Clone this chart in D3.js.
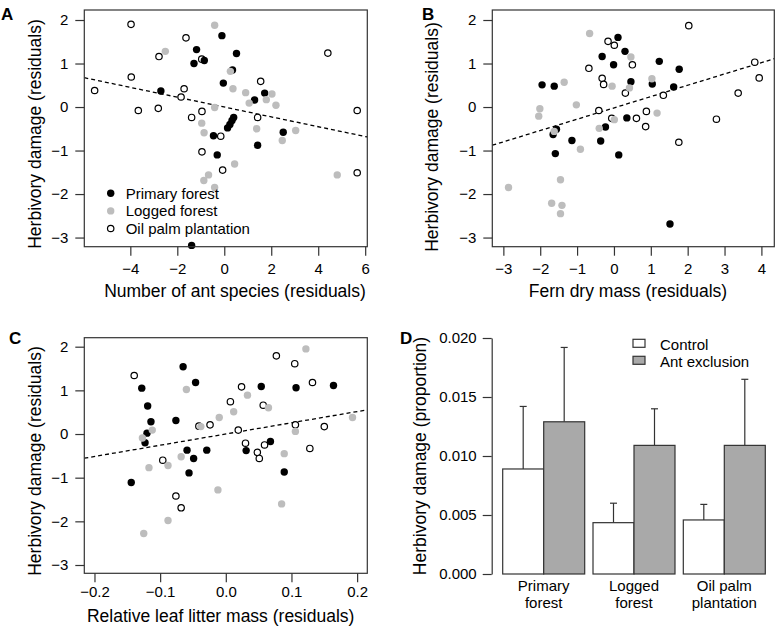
<!DOCTYPE html>
<html><head><meta charset="utf-8">
<script src="https://cdn.jsdelivr.net/npm/d3@7"></script>
<style>
html,body{margin:0;padding:0;background:#fff;}
svg{display:block;font-family:"Liberation Sans",Arial,Helvetica,sans-serif;}
</style></head><body>
<svg id="c" width="777" height="628"></svg>
<script>
// ---------- DATA ----------
const yTicks = [-3, -2, -1, 0, 1, 2];
// Panel A: number of ant species (residuals)
const aTicksX = [-4, -2, 0, 2, 4, 6];
const aPrimX = [-0.10, -1.18, -1.29, -0.85, 0.52, -0.04, -2.70, 0.40, 0.33, 0.24, 0.14, -0.46, -0.30, 1.29, 1.72, 1.42, 2.51, -1.39, 0.35];
const aPrimY = [1.64, 1.32, 1.00, 1.07, 1.23, 0.55, 0.37, -0.24, -0.31, -0.40, -0.48, -0.66, -1.10, 0.16, 0.32, -0.88, -0.58, -3.18, 0.85];
const aLogX = [-0.41, -2.51, 0.26, 0.37, 0.91, 1.06, 1.79, 2.03, 2.20, -0.41, -0.96, -0.86, 1.38, 3.04, 2.47, 0.44, -0.67, -0.87, -0.41, 4.81];
const aLogY = [1.88, 1.28, 0.82, 0.42, 0.33, 0.09, 0.17, 0.30, 0.04, -0.01, -0.37, -0.59, -0.50, -0.54, -0.77, -1.31, -1.56, -1.69, -1.85, -1.56];
const aOilX = [-3.97, -1.63, -2.78, -0.96, -3.96, -5.52, -1.71, -1.84, -3.66, -2.81, -1.39, -0.95, -0.95, -0.15, -0.07, 1.55, 1.42, 4.41, 5.66, 5.66];
const aOilY = [1.90, 1.59, 1.16, 1.10, 0.69, 0.38, 0.42, 0.23, -0.08, -0.03, -0.24, -0.10, -1.03, -0.67, -1.45, 0.59, -0.24, 1.24, -0.08, -1.51];
const aFit = [0.0, -0.113]; // intercept, slope

// Panel B: fern dry mass (residuals)
const bTicksX = [-3, -2, -1, 0, 1, 2, 3, 4];
const bPrimX = [0.11, 0.30, -0.32, -0.01, 1.23, 1.77, -1.95, -1.62, 0.46, 1.04, 1.62, 0.35, -0.23, -1.56, -1.65, -1.14, -0.36, -1.59, 0.13, 1.52];
const bPrimY = [1.60, 1.28, 1.16, 0.97, 1.05, 0.87, 0.51, 0.48, 0.58, 0.53, 0.46, -0.25, -0.46, -0.51, -0.63, -0.77, -0.78, -1.07, -1.10, -2.69];
const bLogX = [-0.66, 0.46, -1.35, -0.05, 0.42, 1.03, -2.01, -2.04, -1.02, -1.62, 1.17, 0.01, -0.40, -0.91, -2.86, -1.45, -1.69, -1.41, -1.45];
const bLogY = [1.69, 1.15, 0.57, 0.48, 0.44, 0.65, -0.04, -0.21, 0.05, -0.56, -0.14, -0.29, -0.49, -0.97, -1.85, -1.67, -2.21, -2.26, -2.45];
const bOilX = [2.03, -0.16, 0.01, -0.68, 0.50, -0.32, -0.28, 0.31, 1.34, -0.41, -0.06, 0.61, 0.88, 0.86, 1.76, 2.78, 3.37, 3.82, 3.94];
const bOilY = [1.87, 1.51, 1.42, 0.89, 0.97, 0.66, 0.52, 0.32, 0.27, -0.08, -0.26, -0.26, -0.10, -0.45, -0.81, -0.28, 0.32, 1.03, 0.67];
const bFit = [-0.02, 0.26];

// Panel C: relative leaf litter mass (residuals)
const cTicksX = [-0.2, -0.1, 0.0, 0.1, 0.2];
const cPrimX = [-0.128, -0.119, -0.114, -0.120, -0.123, -0.144, -0.065, -0.046, -0.076, -0.059, -0.049, -0.029, -0.056, 0.031, 0.054, 0.068, 0.089, 0.107, 0.164];
const cPrimY = [1.05, 0.64, 0.28, 0.02, -0.20, -1.11, 1.54, 1.18, 0.31, -0.37, -0.56, -0.37, -0.89, -0.38, 1.09, -0.17, -0.87, 1.06, 1.11];
const cLogX = [0.122, -0.060, 0.033, 0.065, 0.012, -0.010, -0.038, -0.112, -0.127, -0.117, -0.068, -0.088, 0.106, 0.193, 0.089, -0.012, -0.088, -0.125, 0.085];
const cLogY = [1.95, 1.02, 0.89, 0.60, 0.51, 0.38, 0.17, 0.09, -0.09, -0.77, -0.52, -0.72, 0.06, 0.38, -0.45, -1.28, -1.98, -2.28, -1.60];
const cOilX = [-0.1395, 0.024, 0.007, 0.077, 0.105, 0.132, 0.057, -0.024, -0.041, 0.019, 0.106, 0.150, -0.096, 0.030, 0.048, 0.051, 0.059, 0.128, -0.076, -0.068];
const cOilY = [1.34, 1.08, 0.74, 1.79, 1.61, 1.18, 0.66, 0.21, 0.18, 0.09, 0.21, 0.17, -0.60, -0.21, -0.42, -0.56, -0.25, -0.33, -1.42, -1.69];
const cFit = [0.0, 2.57];

// Panel D: bars
const dCategories = ["Primary forest", "Logged forest", "Oil palm plantation"];
const dCatLines = [["Primary", "forest"], ["Logged", "forest"], ["Oil palm", "plantation"]];
const dTreatments = ["Control", "Ant exclusion"];
const dControl = [0.0089, 0.00435, 0.00458];
const dControlTop = [0.0142, 0.0060, 0.0059];
const dExcl = [0.0129, 0.0109, 0.0109];
const dExclTop = [0.0192, 0.0140, 0.0165];
const dTicks = [0, 0.005, 0.010, 0.015, 0.020];

const groups = ["Primary forest", "Logged forest", "Oil palm plantation"];

// ---------- DRAW ----------
const svg = d3.select("#c");
const AX = "#333";
const FONT_T = 15, FONT_L = 17.5;

function scatter(o) {
  const g = svg.append("g");
  const x = d3.scaleLinear().domain(o.xd).range([o.l, o.r]);
  const y = d3.scaleLinear().domain(o.yd).range([o.b, o.t]);
  // regression line
  const [x0, x1] = o.xd;
  g.append("line")
    .attr("x1", x(x0)).attr("y1", y(o.fit[0] + o.fit[1] * x0))
    .attr("x2", x(x1)).attr("y2", y(o.fit[0] + o.fit[1] * x1))
    .attr("stroke", "#000").attr("stroke-width", 1.3).attr("stroke-dasharray", "4,3");
  // points
  const pts = (xs, ys, kind) => xs.map((v, i) => ({x: v, y: ys[i], k: kind}));
  const all = [].concat(pts(o.oilX, o.oilY, 2), pts(o.primX, o.primY, 0), pts(o.logX, o.logY, 1));
  g.selectAll("circle.p").data(all).join("circle")
    .attr("cx", d => x(d.x)).attr("cy", d => y(d.y)).attr("r", d => d.k === 2 ? 3.2 : 3.7)
    .attr("fill", d => d.k === 0 ? "#000" : d.k === 1 ? "#bdbdbd" : "#fff")
    .attr("stroke", d => d.k === 2 ? "#000" : "none")
    .attr("stroke-width", 1.2);
  // box
  g.append("rect").attr("x", o.l).attr("y", o.t).attr("width", o.r - o.l).attr("height", o.b - o.t)
    .attr("fill", "none").attr("stroke", AX).attr("stroke-width", 1.2);
  // axes
  const xa = g.append("g").attr("transform", `translate(0,${o.b})`)
    .call(d3.axisBottom(x).tickValues(o.xt).tickSize(9).tickPadding(o.xpad).tickFormat(o.xf));
  const ya = g.append("g").attr("transform", `translate(${o.l},0)`)
    .call(d3.axisLeft(y).tickValues(yTicks).tickSize(9).tickPadding(7).tickFormat(d3.format("d")));
  [xa, ya].forEach(a => {
    a.select(".domain").remove();
    a.selectAll("line").attr("stroke", AX).attr("stroke-width", 1.2);
    a.selectAll("text").attr("font-size", FONT_T).attr("fill", "#000").attr("font-family", null);
  });
  // titles
  g.append("text").attr("x", o.xtx).attr("y", o.xty).attr("text-anchor", "middle")
    .attr("font-size", FONT_L).text(o.xtitle);
  g.append("text").attr("transform", `translate(${o.ytx},${o.ytc}) rotate(-90)`)
    .attr("text-anchor", "middle").attr("font-size", FONT_L).text("Herbivory damage (residuals)");
  g.append("text").attr("x", o.lx).attr("y", o.ly).attr("font-size", 17).attr("font-weight", "bold").text(o.label);
  return {g, x, y};
}

scatter({l: 84.3, r: 367.3, t: 10, b: 246.7, xd: [-5.96, 6.09], yd: [-3.21, 2.23],
  xt: aTicksX, xf: d3.format("d"), xpad: 8,
  primX: aPrimX, primY: aPrimY, logX: aLogX, logY: aLogY, oilX: aOilX, oilY: aOilY, fit: aFit,
  xtitle: "Number of ant species (residuals)", xtx: 235, xty: 296.5, ytx: 41, ytc: 134, label: "A", lx: 1, ly: 20});

scatter({l: 492.3, r: 774.3, t: 10, b: 246.7, xd: [-3.30, 4.35], yd: [-3.21, 2.23],
  xt: bTicksX, xf: d3.format("d"), xpad: 8,
  primX: bPrimX, primY: bPrimY, logX: bLogX, logY: bLogY, oilX: bOilX, oilY: bOilY, fit: bFit,
  xtitle: "Fern dry mass (residuals)", xtx: 628, xty: 296.5, ytx: 438, ytc: 137, label: "B", lx: 422, ly: 20});

scatter({l: 84.3, r: 367.3, t: 337.7, b: 573.3, xd: [-0.2155, 0.2155], yd: [-3.19, 2.206],
  xt: cTicksX, xf: d3.format(".1f"), xpad: 4,
  primX: cPrimX, primY: cPrimY, logX: cLogX, logY: cLogY, oilX: cOilX, oilY: cOilY, fit: cFit,
  xtitle: "Relative leaf litter mass (residuals)", xtx: 220.7, xty: 622, ytx: 41, ytc: 461, label: "C", lx: 9, ly: 344});

// Legend in A
const legA = svg.append("g");
const legKinds = [{fill: "#000", stroke: "none", r: 3.7}, {fill: "#bdbdbd", stroke: "none", r: 3.7}, {fill: "#fff", stroke: "#000", r: 3.2}];
groups.forEach((name, i) => {
  const yy = 193.3 + i * 17.6;
  legA.append("circle").attr("cx", 110.7).attr("cy", yy).attr("r", legKinds[i].r)
    .attr("fill", legKinds[i].fill).attr("stroke", legKinds[i].stroke).attr("stroke-width", 1.2);
  legA.append("text").attr("x", 125.7).attr("y", yy + 5.3).attr("font-size", FONT_T).text(name);
});

// Panel D
const gD = svg.append("g");
const xD = d3.scaleBand().domain(dCategories).range([502.7, 765.3]).paddingInner(0.092).paddingOuter(0);
const xSub = d3.scaleBand().domain(dTreatments).range([0, xD.bandwidth()]);
const yD = d3.scaleLinear().domain([0, 0.02]).range([574, 338]);
const barData = [];
dCategories.forEach((c, i) => {
  barData.push({c, t: dTreatments[0], v: dControl[i], top: dControlTop[i]});
  barData.push({c, t: dTreatments[1], v: dExcl[i], top: dExclTop[i]});
});
gD.selectAll("line.err").data(barData).join("line")
  .attr("x1", d => xD(d.c) + xSub(d.t) + xSub.bandwidth() / 2)
  .attr("x2", d => xD(d.c) + xSub(d.t) + xSub.bandwidth() / 2)
  .attr("y1", d => yD(d.v)).attr("y2", d => yD(d.top))
  .attr("stroke", AX).attr("stroke-width", 1.2);
gD.selectAll("line.cap").data(barData).join("line")
  .attr("x1", d => xD(d.c) + xSub(d.t) + xSub.bandwidth() / 2 - 3.5)
  .attr("x2", d => xD(d.c) + xSub(d.t) + xSub.bandwidth() / 2 + 3.5)
  .attr("y1", d => yD(d.top)).attr("y2", d => yD(d.top))
  .attr("stroke", AX).attr("stroke-width", 1.2);
gD.selectAll("rect.bar").data(barData).join("rect")
  .attr("x", d => xD(d.c) + xSub(d.t)).attr("width", xSub.bandwidth())
  .attr("y", d => yD(d.v)).attr("height", d => yD(0) - yD(d.v))
  .attr("fill", d => d.t === "Control" ? "#fff" : "#a9a9a9")
  .attr("stroke", AX).attr("stroke-width", 1.2);
const yaD = gD.append("g").attr("transform", "translate(491.7,0)")
  .call(d3.axisLeft(yD).tickValues(dTicks).tickSize(9).tickPadding(6).tickSizeOuter(0).tickFormat(d3.format(".3f")));
yaD.select(".domain").attr("stroke", AX).attr("stroke-width", 1.2);
yaD.selectAll("line").attr("stroke", AX).attr("stroke-width", 1.2);
yaD.selectAll("text").attr("font-size", FONT_T).attr("fill", "#000").attr("font-family", null);
dCategories.forEach((c, i) => {
  const cx = xD(c) + xD.bandwidth() / 2;
  dCatLines[i].forEach((ln, j) => {
    gD.append("text").attr("x", cx).attr("y", 591 + j * 17).attr("text-anchor", "middle")
      .attr("font-size", FONT_T).text(ln);
  });
});
gD.append("text").attr("transform", `translate(426,456) rotate(-90)`)
  .attr("text-anchor", "middle").attr("font-size", FONT_L).text("Herbivory damage (proportion)");
gD.append("text").attr("x", 400).attr("y", 344).attr("font-size", 17).attr("font-weight", "bold").text("D");
dTreatments.forEach((t, i) => {
  const yy = 339.3 + i * 17;
  gD.append("rect").attr("x", 633).attr("y", yy).attr("width", 12).attr("height", 8)
    .attr("fill", i === 0 ? "#fff" : "#a9a9a9").attr("stroke", AX).attr("stroke-width", 1.2);
  gD.append("text").attr("x", 660).attr("y", yy + 10.8).attr("font-size", FONT_T).text(t);
});
</script>
</body></html>
